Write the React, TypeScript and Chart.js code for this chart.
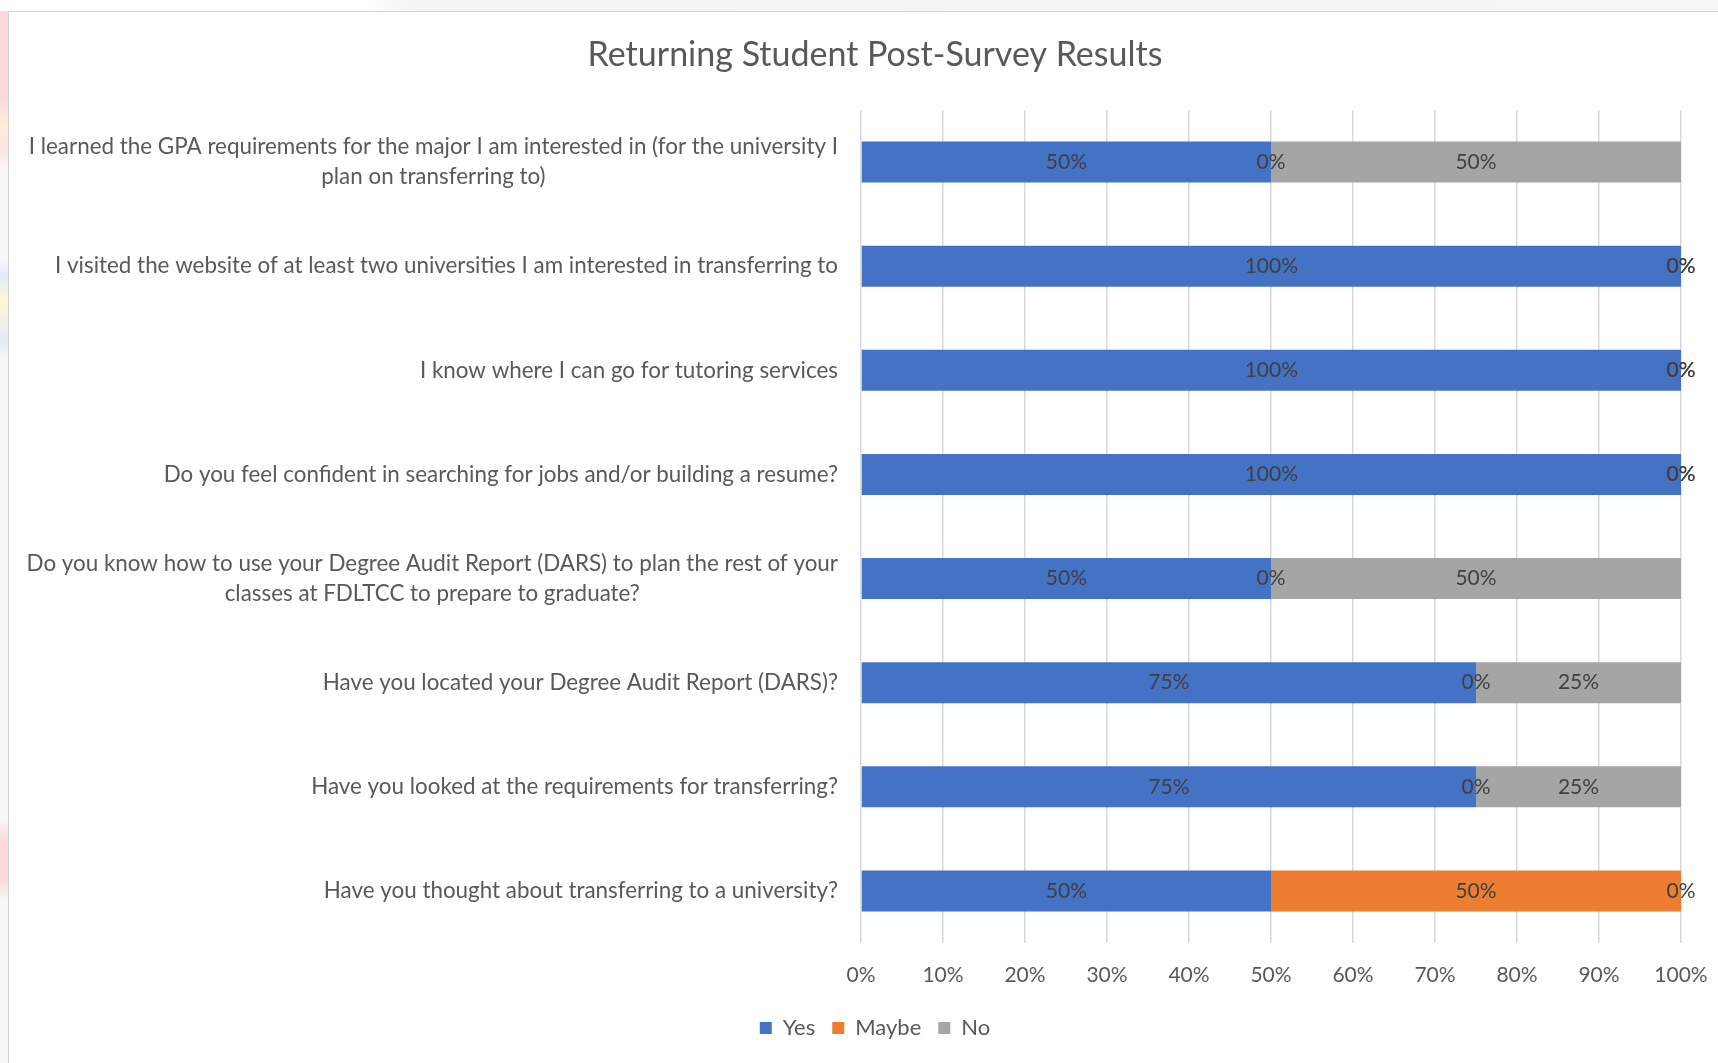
import React, { useEffect, useRef } from "react";
import { Chart, registerables } from "chart.js";

Chart.register(...registerables);

const TITLE = "Returning Student Post-Survey Results";

const categories: string[][] = [
  ["I learned the GPA requirements for the major I am interested in (for the university I", "plan on transferring to)"],
  ["I visited the website of at least two universities I am interested in transferring to"],
  ["I know where I can go for tutoring services"],
  ["Do you feel confident in searching for jobs and/or building a resume?"],
  ["Do you know how to use your Degree Audit Report (DARS) to plan the rest of your", "classes at FDLTCC to prepare to graduate?"],
  ["Have you located your Degree Audit Report (DARS)?"],
  ["Have you looked at the requirements for transferring?"],
  ["Have you thought about transferring to a university?"],
];

const yesValues = [50, 100, 100, 100, 50, 75, 75, 50];
const maybeValues = [0, 0, 0, 0, 0, 0, 0, 50];
const noValues = [50, 0, 0, 0, 50, 25, 25, 0];

const seriesNames = ["Yes", "Maybe", "No"];
const seriesColors = ["#4472C4", "#ED7D31", "#A5A5A5"];

const xTicks = [0, 10, 20, 30, 40, 50, 60, 70, 80, 90, 100];

const FONT = "Lato, 'Liberation Sans', sans-serif";
const TEXT = "#595959";
const LABEL_SIZE = 22.4;
const DATA_SIZE = 21;

const customText = {
  id: "customText",
  afterDatasetsDraw(chart: any) {
    const ctx = chart.ctx;
    const area = chart.chartArea;
    const y = chart.scales.y;
    ctx.save();
    // category labels
    ctx.font = `${LABEL_SIZE}px ${FONT}`;
    ctx.fillStyle = TEXT;
    ctx.textAlign = "center";
    ctx.textBaseline = "middle";
    const lh = 29.6;
    categories.forEach((lines, i) => {
      const cy = y.getPixelForValue(i);
      const maxW = Math.max(...lines.map((l) => ctx.measureText(l).width));
      const cx = area.left - 23 - maxW / 2;
      lines.forEach((l, k) => {
        ctx.fillText(l, cx, cy - ((lines.length - 1) * lh) / 2 + k * lh);
      });
    });
    // data labels
    ctx.font = `${DATA_SIZE}px ${FONT}`;
    ctx.fillStyle = "#404040";
    chart.data.datasets.forEach((ds: any, di: number) => {
      const meta = chart.getDatasetMeta(di);
      meta.data.forEach((el: any, i: number) => {
        const v = ds.data[i];
        const px = (el.x + el.base) / 2;
        ctx.fillText(`${v}%`, px, el.y);
      });
    });
    ctx.restore();
  },
};

export default function App() {
  const ref = useRef<HTMLCanvasElement | null>(null);
  useEffect(() => {
    if (!ref.current) return;
    const chart = new Chart(ref.current, {
      type: "bar",
      data: {
        labels: categories.map((c) => c.join(" ")),
        datasets: [yesValues, maybeValues, noValues].map((d, i) => ({
          label: seriesNames[i],
          data: d,
          backgroundColor: seriesColors[i],
          borderWidth: 0,
          barPercentage: 0.393,
          categoryPercentage: 1,
        })),
      },
      options: {
        indexAxis: "y",
        responsive: false,
        animation: false,
        events: [],
        layout: { padding: { left: 0, right: 0, top: 0, bottom: 14 } },
        plugins: {
          title: {
            display: true,
            text: TITLE,
            color: TEXT,
            font: { family: FONT, size: 34, weight: "normal" },
            padding: { top: 22.6, bottom: 34.6 },
          },
          legend: {
            position: "bottom",
            labels: {
              boxWidth: 12,
              boxHeight: 12,
              padding: 17,
              color: TEXT,
              font: { family: FONT, size: 22 },
            },
          },
          tooltip: { enabled: false },
        },
        scales: {
          x: {
            stacked: true,
            min: 0,
            max: 100,
            afterBuildTicks: (s: any) => {
              s.ticks = xTicks.map((v) => ({ value: v }));
            },
            ticks: {
              callback: (v: any) => `${v}%`,
              color: TEXT,
              font: { family: FONT, size: 21 },
              padding: 20,
              maxRotation: 0,
            },
            grid: { color: "#D9D9D9", lineWidth: 1.5, drawTicks: false },
            border: { display: false },
            afterFit: (s: any) => {
              s.height = 57;
            },
          },
          y: {
            stacked: true,
            ticks: { display: false },
            grid: { display: false },
            border: { display: false },
            afterFit: (s: any) => {
              s.width = 852;
            },
          },
          yRight: {
            type: "linear",
            position: "right",
            display: true,
            ticks: { display: false },
            grid: { display: false },
            border: { display: false },
            afterFit: (s: any) => {
              s.width = 60;
            },
          },
        },
      },
      plugins: [customText],
    } as any);
    return () => chart.destroy();
  }, []);

  return (
    <div style={{ position: "fixed", left: 0, top: 0, width: 1718, height: 1063, overflow: "hidden", background: "#fafafa" }}>
      <div
        style={{
          position: "absolute",
          left: 0,
          top: 0,
          width: 8,
          height: 1063,
          background:
            "linear-gradient(to bottom, #fcd9dd 0px, #fcd9dd 100px, #fdecd8 125px, #fce6e0 150px, #f8f8f8 170px, #f8f8f8 260px, #e3ecf8 275px, #fff6d0 300px, #e3ecf8 340px, #f8f8f8 360px, #f8f8f8 820px, #fad8dc 840px, #fad8dc 880px, #f8f8f8 900px)",
        }}
      />
      <div
        style={{
          position: "absolute",
          left: 0,
          top: 0,
          width: 1718,
          height: 11,
          background: "linear-gradient(to right, #ffffff 0px, #ffffff 360px, #f4f4f4 420px, #f6f6f6 1718px)",
        }}
      />
      <div
        style={{
          position: "absolute",
          left: 8,
          top: 11,
          width: 1720,
          height: 1060,
          background: "#ffffff",
          borderLeft: "1px solid #d4d4d4",
          borderTop: "1px solid #d4d4d4",
        }}
      >
        <canvas ref={ref} width={1732} height={1051} style={{ display: "block", width: 1732, height: 1051 }} />
      </div>
    </div>
  );
}
